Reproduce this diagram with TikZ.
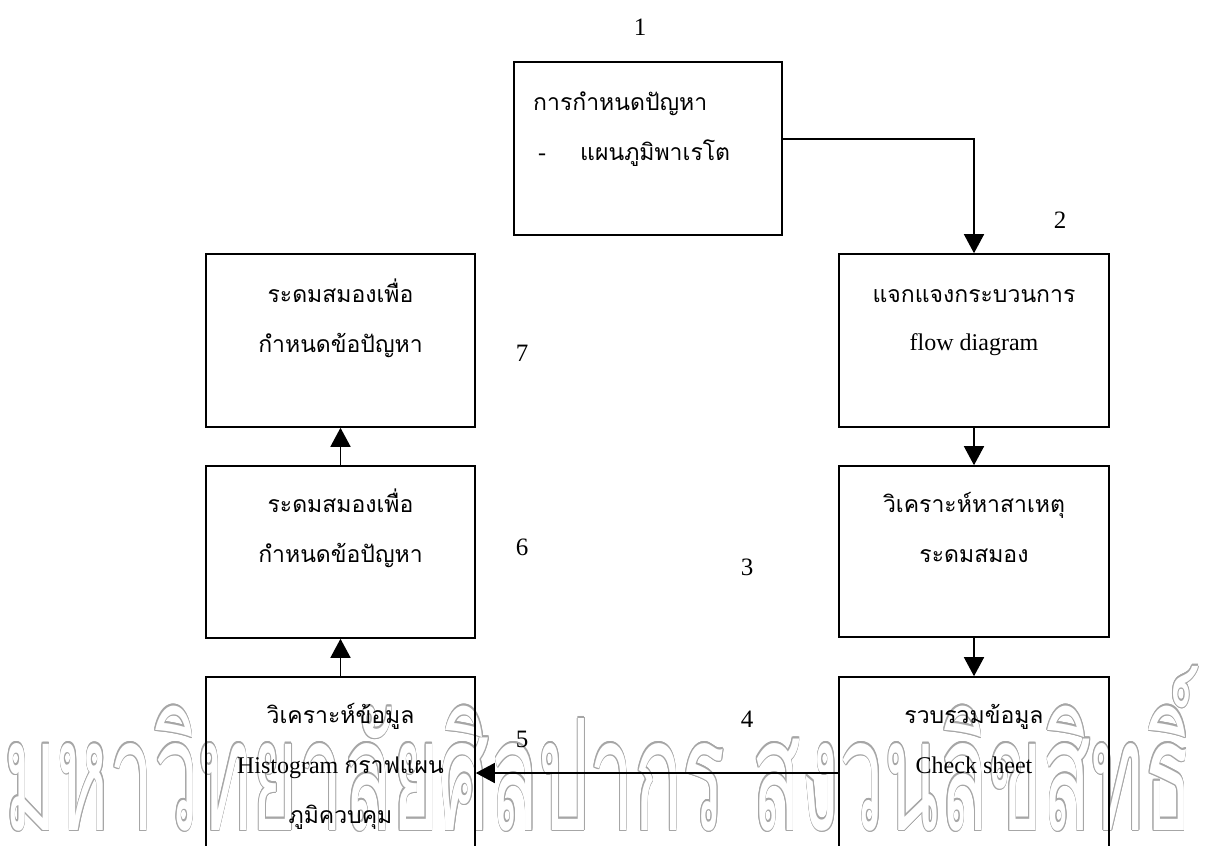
\documentclass[tikz,border=0pt]{standalone}
\usepackage{fontspec}
\setmainfont{Liberation Serif}
\newfontfamily\thaifont[Script=Thai]{Loma}
\usetikzlibrary{arrows.meta}
\newcommand{\tht}[1]{{\thaifont\fontsize{23}{26}\selectfont #1}}
\tikzset{
  box/.style={draw, line width=1.6pt, inner sep=0pt, minimum width=269pt},
  arr/.style={line width=1.6pt, -{Triangle[width=20pt,length=19pt]}},
  txt/.style={anchor=base, inner sep=0pt, font=\fontsize{24}{28}\selectfont},
  num/.style={anchor=base, inner sep=0pt, font=\fontsize{25}{28}\selectfont},
  wm/.style={anchor=base west, inner sep=0pt, xscale=0.515, transform shape,
    font=\thaifont\fontsize{155}{160}\selectfont}
}
\begin{document}
\begin{tikzpicture}[x=1pt, y=-1pt]
\useasboundingbox (0,0) rectangle (1211,846);
\clip (0,0) rectangle (1211,846);
% watermark (outlined)
\foreach \a in {0,30,...,330}{
  \node[wm, text=gray!70, shift={(\a:1.3pt)}] at (4,830) {มหาวิทยาลัยศิลปากร สงวนลิขสิทธิ์};
}
\node[wm, text=white] (wmark) at (4,830) {มหาวิทยาลัยศิลปากร สงวนลิขสิทธิ์};
% boxes
\node[box, minimum width=268pt, minimum height=173pt] (b1) at (648,148.5) {};
\node[box, minimum width=270pt, minimum height=173pt] (b2) at (974,340.5) {};
\node[box, minimum width=270pt, minimum height=171pt] (b3) at (974,551.5) {};
\node[box, minimum width=270pt, minimum height=192pt] (b4) at (974,773) {};
\node[box, minimum height=192pt] (b5) at (340.5,773) {};
\node[box, minimum height=172pt] (b6) at (340.5,552) {};
\node[box, minimum height=173pt] (b7) at (340.5,340.5) {};
% texts
\node[txt, anchor=base west] (t1a) at (533,110) {\tht{การกำหนดปัญหา}};
\node[txt, anchor=base west] (t1d) at (538,160) {-};
\node[txt, anchor=base west] (t1b) at (580,160) {\tht{แผนภูมิพาเรโต}};
\node[txt] (t2a) at (974,302) {\tht{แจกแจงกระบวนการ}};
\node[txt] (t2b) at (974,350) {flow diagram};
\node[txt] (t3a) at (974,512) {\tht{วิเคราะห์หาสาเหตุ}};
\node[txt] (t3b) at (974,562) {\tht{ระดมสมอง}};
\node[txt] (t4a) at (974,723) {\tht{รวบรวมข้อมูล}};
\node[txt] (t4b) at (974,773) {Check sheet};
\node[txt] (t5a) at (340.5,723) {\tht{วิเคราะห์ข้อมูล}};
\node[txt] (t5b) at (340.5,773) {Histogram \tht{กราฟแผน}};
\node[txt] (t5c) at (340.5,823) {\tht{ภูมิควบคุม}};
\node[txt] (t6a) at (340.5,512) {\tht{ระดมสมองเพื่อ}};
\node[txt] (t6b) at (340.5,562) {\tht{กำหนดข้อปัญหา}};
\node[txt] (t7a) at (340.5,302) {\tht{ระดมสมองเพื่อ}};
\node[txt] (t7b) at (340.5,352) {\tht{กำหนดข้อปัญหา}};
% numbers
\node[num] (n1) at (640,35) {1};
\node[num] (n2) at (1060,228) {2};
\node[num] (n3) at (747,575) {3};
\node[num] (n4) at (747,727) {4};
\node[num] (n5) at (522,747) {5};
\node[num] (n6) at (522,555) {6};
\node[num] (n7) at (522,361) {7};
% connectors
\draw[arr] ([yshift=9.5pt]b1.east) -| (b2.north);
\draw[arr] (b2.south) -- (b3.north);
\draw[arr] (b3.south) -- (b4.north);
\draw[arr] (b4.west) -- (b5.east);
\draw[arr] (b5.north) -- (b6.south);
\draw[arr] (b6.north) -- (b7.south);
\end{tikzpicture}
\end{document}
